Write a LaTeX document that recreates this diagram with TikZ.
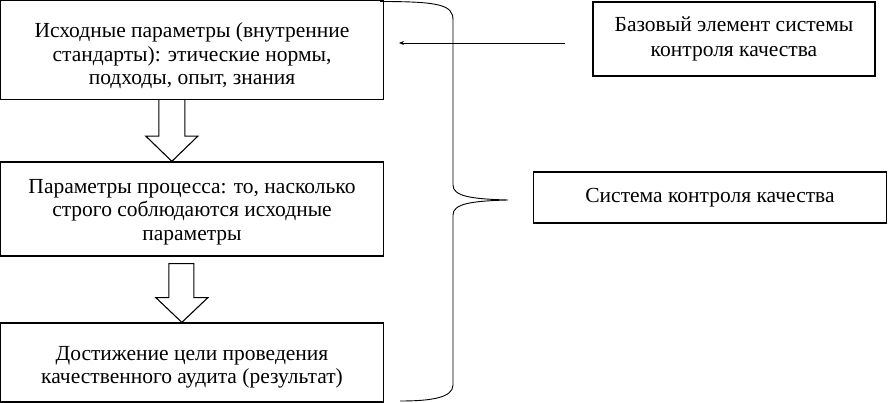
\documentclass[tikz,border=0pt]{standalone}
\usepackage{fontspec}
\setmainfont{Liberation Serif}
\usetikzlibrary{calc,arrows.meta}
\begin{document}
\begin{tikzpicture}[x=1pt,y=-1pt,
  box/.style={draw,line width=1.3pt,align=center,inner sep=0pt},
  ltext/.style={align=center,inner sep=0pt,font=\fontsize{21.5}{23.5}\selectfont},
  rbox/.style={box,line width=1.1pt,font=\fontsize{21.5}{25.5}\selectfont},
  hollow/.style={draw,line width=1.1pt,fill=white},
  thin/.style={draw,line width=0.8pt,-{Stealth[length=5pt,width=4pt]}},
  brace/.style={draw,line width=0.9pt}]
\useasboundingbox (0,0) rectangle (888,403);
\node[box,minimum width=383pt,minimum height=99pt] (b1) at (192,50) {};
\node[ltext] (t1) at ($(b1.center)+(0,6)$)
  {Исходные параметры (внутренние\\стандарты): этические нормы,\\подходы, опыт, знания};
\node[box,minimum width=383pt,minimum height=94pt] (b2) at (192,209) {};
\node[ltext] (t2) at ($(b2.center)+(0,3)$)
  {Параметры процесса: то, насколько\\строго соблюдаются исходные\\параметры};
\node[box,minimum width=383pt,minimum height=79pt] (b3) at (192,362.5) {};
\node[ltext] (t3) at ($(b3.center)+(0,5)$)
  {Достижение цели проведения\\качественного аудита (результат)};
\node[rbox,minimum width=282pt,minimum height=74pt] (r1) at (734,39)
  {Базовый элемент системы\\контроля качества};
\node[rbox,minimum width=353pt,minimum height=51pt] (r2) at (710,197.5)
  {Система контроля качества};
% hollow arrows
\draw[hollow] ($(b1.south west)+(159,0)$) -- ++(0,36) -- ++(-13,0)
  -- ($(b2.north west)+(172,0)$) -- ($(b1.south west)+(198,36)$)
  -- ($(b1.south west)+(185,36)$) -- ($(b1.south west)+(185,0)$);
\draw[hollow] ($(b2.south west)+(169,7)$) -- ($(b2.south west)+(169,41)$)
  -- ($(b2.south west)+(156,41)$) -- ($(b3.north west)+(182,0)$)
  -- ($(b2.south west)+(208,41)$) -- ($(b2.south west)+(194,41)$)
  -- ($(b2.south west)+(194,7)$) -- cycle;
% thin arrow
\coordinate (from) at (565,43);
\coordinate (to) at (399,43);
\draw[thin] (from) -- (to);
% brace
\coordinate (tip) at (508,200);
\draw[brace] (380,1.5) .. controls (440,1.5) and (453,5) .. (453,20)
  -- (453,185) .. controls (453,196) and (470,199) .. (tip)
  .. controls (470,201) and (453,204) .. (453,215)
  -- (453,385) .. controls (453,398) and (430,401) .. (400,401);
\end{tikzpicture}
\end{document}
